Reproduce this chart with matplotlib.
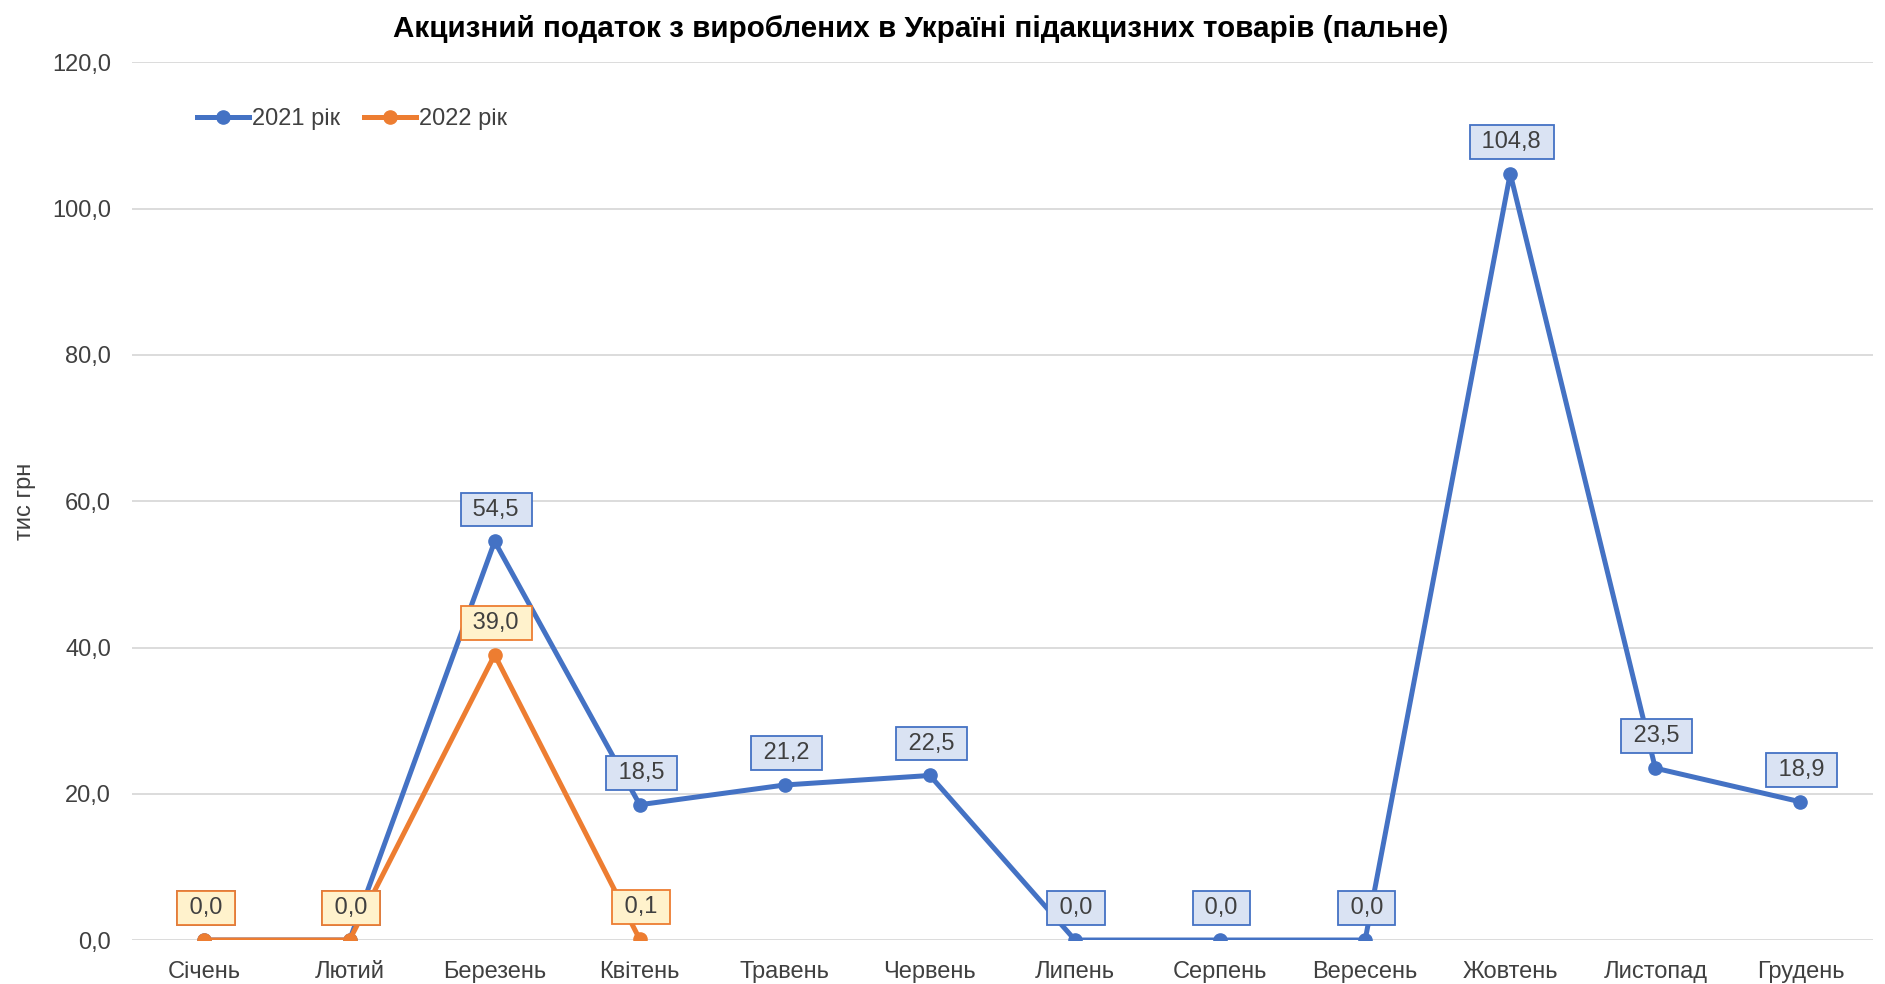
import numpy as np
import matplotlib
matplotlib.use("Agg")
import matplotlib.pyplot as plt

# --- data ---
months = ["Січень", "Лютий", "Березень", "Квітень", "Травень", "Червень",
          "Липень", "Серпень", "Вересень", "Жовтень", "Листопад", "Грудень"]
y2021 = [0.0, 0.0, 54.5, 18.5, 21.2, 22.5, 0.0, 0.0, 0.0, 104.8, 23.5, 18.9]
y2022 = [0.0, 0.0, 39.0, 0.1]
yticks = [0, 20, 40, 60, 80, 100, 120]

blue = "#4472C4"
orange = "#ED7D31"
txt = "#404040"

plt.rcParams["font.family"] = ["Liberation Sans", "DejaVu Sans"]

def fmt(v):
    return f"{v:.1f}".replace(".", ",")

fig = plt.figure(figsize=(18.85, 9.84), dpi=100)
ax = fig.add_axes([0.070, 0.0447, 0.9236, 0.8918])

x = np.arange(len(months))
ax.plot(x, y2021, color=blue, lw=3.6, marker="o", ms=9.5, label="2021 рік", zorder=3)
ax.plot(x[:len(y2022)], y2022, color=orange, lw=3.6, marker="o", ms=9.5,
        label="2022 рік", zorder=4)

def labels(xs, ys, edge, face, z):
    for xi, yi in zip(xs, ys):
        ax.annotate(" " + fmt(yi) + " ", (xi, yi), xytext=(1, 23),
                    textcoords="offset points", ha="center", va="center",
                    fontsize=17, color=txt, zorder=z,
                    bbox=dict(boxstyle="square,pad=0.25", fc=face, ec=edge, lw=1.3))

labels(x, y2021, blue, "#DAE3F3", 5)
labels(x[:len(y2022)], y2022, orange, "#FFF2CC", 6)

ax.set_xlim(-0.5, len(months) - 0.5)
ax.set_ylim(0, 120)
ax.set_yticks(yticks)
ax.set_yticklabels([fmt(v) for v in yticks])
ax.set_xticks(x)
ax.set_xticklabels(months)
ax.tick_params(axis="both", length=0, labelsize=17, colors=txt)
ax.tick_params(axis="y", pad=15)
ax.tick_params(axis="x", pad=15)
ax.grid(axis="y", color="#D9D9D9", lw=1.3, zorder=0)
for s in ax.spines.values():
    s.set_visible(False)

ax.set_ylabel("тис грн", fontsize=17, color=txt)
ax.yaxis.set_label_coords(-0.055, 0.5)

fig.suptitle("Акцизний податок з вироблених в Україні підакцизних товарів (пальне)",
             fontsize=21.3, fontweight="bold", color="black", x=0.4886, y=0.985)

leg = ax.legend(loc="upper left", bbox_to_anchor=(0.025, 0.972), ncol=2, frameon=False,
                fontsize=17, handlelength=2.2, handletextpad=0.15, columnspacing=1.0,
                labelcolor=txt)

fig.savefig("out.png", dpi=100)
plt.close(fig)
